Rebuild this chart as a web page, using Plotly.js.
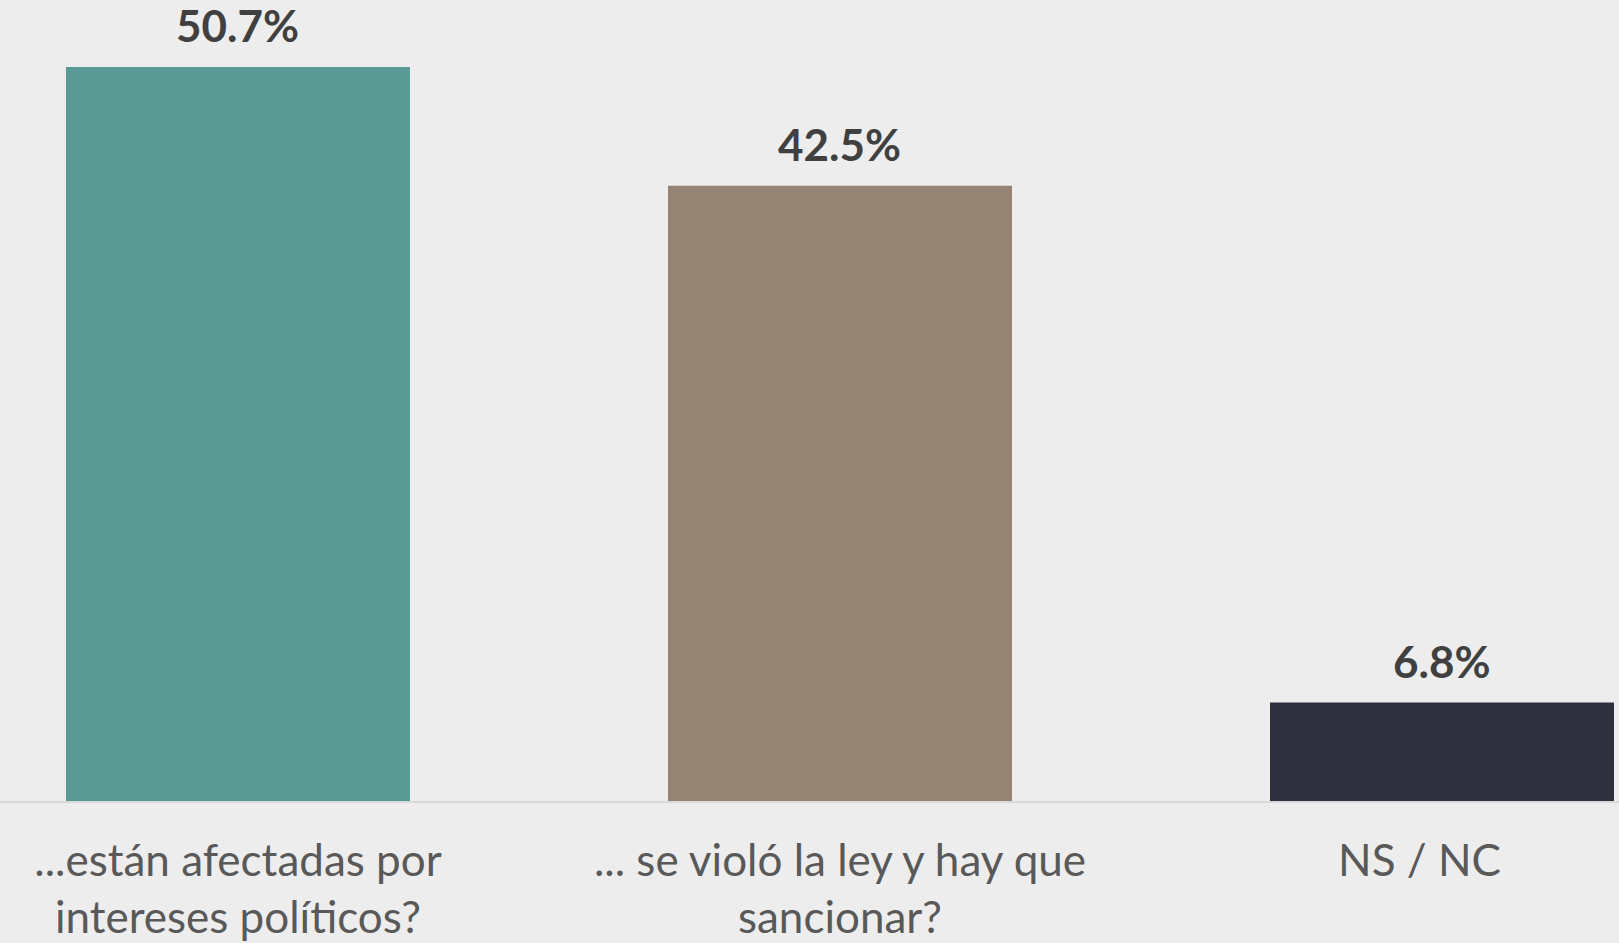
<!DOCTYPE html>
<html>
<head>
<meta charset="utf-8">
<script src="https://cdn.plot.ly/plotly-3.0.1.min.js"></script>
<style>
  html, body { margin: 0; padding: 0; background: #ededed; }
  #chart { width: 1619px; height: 943px; }
</style>
</head>
<body>
<div id="chart"></div>
<script>
var categories = [
  "...están afectadas por<br>intereses políticos?",
  "... se violó la ley y hay que<br>sancionar?",
  "NS / NC\u00a0\u00a0\u00a0\u00a0"
];
var values = [50.7, 42.5, 6.8];
var barColors = ["#5a9a94", "#958374", "#2e3040"];
var valueLabels = values.map(function (v) { return v.toFixed(1) + "%"; });

var trace = {
  type: "bar",
  x: categories,
  y: values,
  marker: { color: barColors },
  hoverinfo: "none"
};

var annotations = categories.map(function (c, i) {
  return {
    x: c,
    y: values[i],
    xref: "x",
    yref: "y",
    text: valueLabels[i],
    showarrow: false,
    yanchor: "bottom",
    xanchor: "center",
    yshift: 14,
    font: { family: "Lato", size: 44, color: "#404040", weight: 700 }
  };
});

var layout = {
  width: 1619,
  height: 943,
  margin: { l: 0, r: 0, t: 0, b: 142 },
  paper_bgcolor: "#ededed",
  plot_bgcolor: "#ededed",
  bargap: 0.4286,
  showlegend: false,
  xaxis: {
    type: "category",
    range: [-0.3953, 2.2940],
    showline: true,
    linecolor: "#d9d9d9",
    linewidth: 2,
    showgrid: false,
    zeroline: false,
    ticks: "",
    ticklabelstandoff: 20,
    tickfont: { family: "Lato", size: 44, color: "#595959" },
    fixedrange: true
  },
  yaxis: {
    range: [0, 55.33],
    visible: false,
    showgrid: false,
    zeroline: false,
    fixedrange: true
  },
  annotations: annotations
};

Plotly.newPlot("chart", [trace], layout, { displayModeBar: false, staticPlot: true });
</script>
</body>
</html>
